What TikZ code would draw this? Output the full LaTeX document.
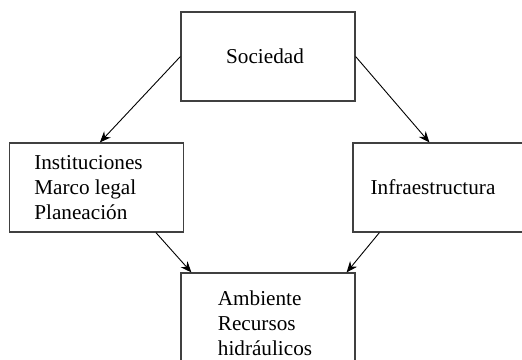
\documentclass[tikz,border=0pt]{standalone}
\usepackage{fontspec}
\setmainfont{Liberation Serif}
\usetikzlibrary{arrows.meta,calc}

\tikzset{
  box/.style={draw=black!75,line width=0.6pt,minimum width=87pt,minimum height=44.5pt,inner sep=0pt},
  lbl/.style={align=left,inner sep=0pt,font=\fontsize{10.6}{12.4}\selectfont},
  link/.style={line width=0.45pt,-{Stealth[length=5.5pt,width=4.5pt]}}
}

\begin{document}
\begin{tikzpicture}[x=0.5pt,y=-0.5pt]
    \useasboundingbox (0,0) rectangle (522,359);
    \clip (0,0) rectangle (522,359);

    % boxes
    \node[box] (soc) at (268,56.5) {};
    \node[box] (inst) at (96.5,187.5) {};
    \node[box,minimum width=96pt] (infra) at (449,187.5) {};
    \node[box] (amb) at (268,317.5) {};

    % texts
    \node[lbl] (soclbl) at ([xshift=-1.5pt]soc.center) {Sociedad};
    \node[lbl] (instlbl) at ([xshift=-4pt]inst.center) {Instituciones\\Marco legal\\Planeación};
    \node[lbl] (infralbl) at ([xshift=-8pt]infra.center) {Infraestructura};
    \node[lbl] (amblbl) at ([xshift=-1.5pt,yshift=-3pt]amb.center) {Ambiente\\Recursos\\hidráulicos};

    % arrows
    \draw[link] (soc.west) -- ($(inst.north west)+(91,0)$);
    \draw[link] (soc.east) -- ($(infra.north west)+(77,0)$);
    \draw[link] ($(inst.south west)+(147,0)$) -- ($(amb.north west)+(11,0)$);
    \draw[link] ($(infra.south west)+(27,0)$) -- ($(amb.north east)+(-9,0)$);
\end{tikzpicture}
\end{document}
